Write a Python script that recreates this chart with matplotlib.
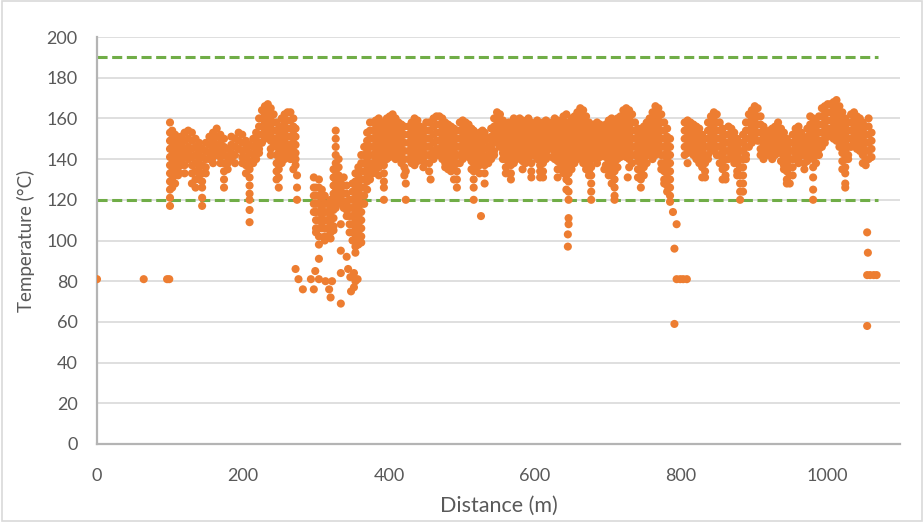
import matplotlib
matplotlib.use("Agg")
import matplotlib.pyplot as plt
from matplotlib.patches import Rectangle

# scan columns along the track: distance (m) and the temperatures read at it (degC)
col_dist = [100, 103, 107, 111, 115, 120, 125, 130, 135, 140, 144, 149, 154, 159, 164, 169, 174, 179, 184, 189,
            194, 199, 204, 209, 214, 218, 222, 226, 230, 234, 238, 242, 246, 249, 253, 257, 261, 265, 269, 272,
            274,
            297, 300, 304, 308, 312, 316, 320, 324, 327, 331, 334, 338, 342, 346, 350, 354, 358, 362, 366,
            370, 374, 378,
            382, 386, 390, 393, 397, 401, 405, 409, 413, 417, 421, 423, 427, 431, 435, 439, 443, 447, 451, 455,
            457, 461, 465, 469, 473, 477, 481, 485, 489, 493, 497, 501, 505, 509, 513, 516, 520, 524, 528, 531,
            536, 540, 544, 548, 552, 556, 560, 564, 567, 571, 575, 579, 583, 587, 591, 595, 599, 603, 607, 611,
            615, 619, 623, 627, 631, 635, 639, 643, 646, 650,
            654, 658, 662, 666, 670, 674, 677, 681, 685, 689, 693, 695, 697, 701, 705, 709, 713, 717, 721, 725,
            727, 729, 733, 737, 741, 745, 749, 753, 757, 761, 765, 769, 773, 777, 781, 785,
            805, 809, 813, 817, 821, 825, 829, 833, 837, 841, 845, 849, 853, 857, 861, 865, 869, 873, 877, 881,
            885, 889, 893, 897, 901, 905, 909, 913, 917, 921, 925, 929, 933, 937, 941, 945, 949, 953, 957, 961,
            965, 969, 973, 977, 981, 985, 989, 993, 997, 1001, 1005, 1009, 1013, 1017, 1021, 1025, 1029, 1033,
            1037, 1041, 1045, 1049, 1053, 1057, 1061]

col_temps = [
    [158, 153, 149, 145, 141, 137, 133, 129, 125, 121, 117], [154, 150, 146, 142, 138, 134, 130, 126],
    [152, 148, 144, 140, 136, 132, 128], [150, 146, 142, 138, 134, 132], [151, 147, 143, 139, 137],
    [153, 149, 145, 141, 137, 133], [154, 150, 146, 143, 140], [153, 149, 145, 141, 137, 133, 128],
    [150, 146, 142, 138, 134, 130, 126], [148, 144, 140, 136, 133, 130],
    [145, 141, 137, 133, 129, 126, 121, 117], [148, 144, 140, 136, 133], [151, 147, 143, 140],
    [153, 149, 145, 141, 138], [155, 151, 147, 144, 142], [152, 148, 144, 141, 138],
    [150, 146, 142, 138, 134, 130, 126], [145, 141, 138, 135], [151, 147, 143, 140], [150, 146, 142, 138],
    [153, 149, 145], [152, 148, 144, 141, 138], [149, 145, 141, 137, 133],
    [147, 143, 139, 135, 131, 127, 123, 120, 115, 109], [150, 146, 142, 138], [153, 149, 145, 142, 140],
    [160, 156, 152, 148, 145, 143], [164, 160, 156, 152, 148], [166, 162, 158, 154, 150],
    [167, 163, 159, 155, 152], [165, 161, 157, 153, 149, 145, 142], [162, 158, 154, 150, 148],
    [158, 154, 150, 146, 142, 138, 134, 130], [155, 151, 147, 143, 139, 135, 131, 126],
    [160, 156, 152, 148, 144, 140, 138], [162, 158, 154, 150, 146, 142, 140],
    [163, 159, 155, 151, 147, 144, 142], [163, 159, 155, 151, 147, 143, 140],
    [160, 156, 152, 148, 144, 140, 135], [155, 151, 147, 143, 140, 137], [132, 126, 120],
    # the dip around 300-380 m
    [131, 126, 122, 118, 114], [126, 122, 118, 114, 110, 106, 104],
    [130, 126, 122, 118, 114, 110, 106, 102, 98, 91], [125, 121, 117, 113, 109, 106],
    [122, 118, 114, 110, 106, 102, 100], [118, 114, 110, 106, 102], [120, 116, 112, 108, 104, 101],
    [135, 131, 127, 123, 119, 115, 111, 107, 105], [154, 150, 146, 142, 138, 134, 130, 126, 122, 118, 116],
    [140, 136, 132, 128, 124, 120], [130, 126, 122, 118, 108, 95], [131, 127, 123, 119, 116],
    [127, 123, 119, 115, 112, 92], [120, 116, 112, 108, 104],
    [128, 124, 120, 116, 112, 108, 104, 100], [133, 129, 125, 121, 117, 113, 109, 105, 101, 97, 94],
    [136, 132, 128, 124, 120, 116, 112, 108, 104, 100, 98],
    [142, 138, 134, 130, 126, 122, 118, 114, 110, 106, 102, 99], [146, 142, 138, 134, 130, 126, 122, 118],
    [153, 149, 145, 141, 137, 133, 129, 125], [158, 154, 150, 146, 142, 138, 134, 130],
    [158, 154, 150, 146, 142, 138, 135, 133],
    # 380-535 m
    [159, 155, 151, 147, 143, 139, 135], [160, 156, 152, 148, 144, 140, 136, 132],
    [158, 154, 150, 146, 142, 138], [157, 153, 149, 145, 141, 137, 133, 129, 126, 120],
    [160, 156, 152, 148, 144, 140], [161, 157, 153, 149, 145, 141], [162, 158, 154, 150, 146, 142],
    [160, 156, 152, 148, 144, 140], [158, 154, 150, 146, 143, 141], [157, 153, 149, 145, 141, 138],
    [156, 152, 148, 144, 140, 136, 132], [134, 128, 120], [156, 152, 148, 144, 140],
    [158, 154, 150, 146, 142, 138], [160, 156, 152, 148, 144, 140, 137], [159, 155, 151, 147, 143, 139],
    [156, 152, 148, 144, 140], [155, 151, 147, 143, 139, 136], [158, 154, 150, 146, 142],
    [158, 154, 150, 146, 142, 138, 134], [130], [160, 156, 152, 148, 144, 140],
    [161, 157, 153, 149, 145, 142], [161, 157, 153, 149, 145, 142], [160, 156, 152, 148, 144, 140],
    [158, 154, 150, 146, 142, 138, 136], [157, 153, 149, 145, 141, 137, 135],
    [156, 152, 148, 144, 140, 136, 134], [155, 151, 147, 143, 139, 135, 130],
    [154, 150, 146, 142, 138, 134, 130, 126], [158, 154, 150, 146, 142, 138],
    [159, 155, 151, 147, 143, 140], [158, 154, 150, 146, 142], [157, 153, 149, 145, 141],
    [155, 151, 147, 143, 139, 135], [154, 150, 146, 142, 138, 134, 130, 126, 120],
    [152, 148, 144, 140, 136], [153, 149, 145, 141, 137, 133], [154, 150, 146, 142, 138],
    [153, 149, 145, 141, 137, 133, 128],
    # 535-650 m
    [150, 146, 142, 138], [155, 151, 147, 143, 140], [160, 156, 152, 148, 144, 142],
    [163, 159, 155, 151, 148], [162, 158, 154, 150, 146], [159, 155, 151, 147, 143, 140],
    [156, 152, 148, 144, 140, 136, 133], [158, 154, 150, 146, 142, 138, 133],
    [157, 153, 149, 145, 141, 137, 133, 130], [160, 156, 152, 148, 144, 140, 138],
    [158, 154, 150, 146, 142, 140], [160, 156, 152, 148, 144, 142], [159, 155, 151, 147, 143, 139, 135],
    [157, 153, 149, 145, 141, 138], [160, 156, 152, 148, 144, 140], [158, 154, 150, 146, 142, 138, 134, 131],
    [157, 153, 149, 145, 142], [159, 155, 151, 147, 143, 140], [157, 153, 149, 145, 141, 137, 134, 131],
    [158, 154, 150, 146, 142, 138, 134, 131], [159, 155, 151, 147, 143, 140], [158, 154, 150, 147, 145],
    [157, 153, 149, 145, 141], [160, 156, 152, 148, 144, 140], [159, 155, 151, 147, 143, 139, 135, 131],
    [158, 154, 150, 146, 142, 138, 135], [161, 157, 153, 149, 145, 141, 137, 133],
    [162, 158, 154, 150, 146, 142, 138, 134, 130, 125], [157, 153, 149, 145, 141, 137, 133, 129, 124, 120],
    [160, 156, 152, 148, 144, 140, 135],
    # 650-790 m
    [161, 157, 153, 149, 145, 141, 138], [163, 159, 155, 151, 147, 143, 140],
    [165, 161, 157, 153, 149, 145, 142], [164, 160, 156, 152, 148, 144, 140, 138],
    [161, 157, 153, 149, 145, 141, 137, 135], [158, 154, 150, 146, 142, 138, 134, 132],
    [156, 152, 148, 144, 140, 136, 132, 128, 124, 120], [157, 153, 149, 145, 141],
    [158, 154, 150, 146, 142, 138], [157, 153, 149, 145, 141], [155, 151, 147, 144, 142], [135],
    [157, 153, 149, 145, 141, 137], [159, 155, 151, 147, 143, 139, 135, 132],
    [160, 156, 152, 148, 144, 140, 136, 132, 128], [158, 154, 150, 146, 142, 138, 134, 130, 126, 122, 120],
    [160, 156, 152, 148, 144, 140, 136], [161, 157, 153, 149, 145, 141],
    [164, 160, 156, 152, 148, 144, 142], [165, 161, 157, 153, 149, 145, 141], [131],
    [164, 160, 156, 152, 148, 144, 140, 136], [162, 158, 154, 150, 146, 142, 138],
    [158, 154, 150, 146, 142], [155, 151, 147, 143, 139, 135, 131], [154, 150, 146, 142, 138, 134, 130, 126],
    [156, 152, 148, 144, 140, 136, 132], [158, 154, 150, 146, 142, 138], [160, 156, 152, 148, 144, 142],
    [163, 159, 155, 151, 147, 143, 140], [166, 162, 158, 154, 150, 146, 142],
    [165, 161, 157, 153, 149, 145], [162, 158, 154, 150, 146, 142, 138, 135],
    [158, 154, 150, 146, 142, 138, 134, 130, 128], [155, 151, 147, 143, 139, 135, 131, 127, 124],
    [150, 146, 142, 138, 134, 130, 126, 122, 119],
    # 805-1061 m
    [158, 154, 150, 146, 142], [159, 155, 151, 147, 143, 138], [158, 154, 150, 146, 145],
    [157, 153, 149, 145, 142], [156, 152, 148, 144, 140], [155, 151, 147, 143, 138],
    [152, 148, 144, 140, 136, 131], [150, 146, 142, 138, 134, 131], [158, 154, 150, 146, 142, 140],
    [161, 157, 153, 149, 145], [163, 159, 155, 151, 147, 144], [162, 158, 154, 150, 146, 142],
    [158, 154, 150, 146, 142, 138], [155, 151, 147, 143, 139, 135, 130], [152, 148, 144, 140, 136, 132, 130],
    [156, 152, 148, 144, 140], [155, 151, 147, 144, 142], [153, 149, 145, 141, 138],
    [150, 146, 142, 138, 134, 132], [148, 144, 140, 136, 132, 128, 124, 120],
    [152, 148, 144, 140, 136, 132, 128, 124], [158, 154, 150, 146, 142, 140], [162, 158, 154, 150, 146],
    [164, 160, 156, 152, 148], [166, 162, 158, 154, 150], [165, 161, 157, 153, 149],
    [161, 157, 153, 149, 145, 142], [156, 152, 148, 144, 140], [153, 149, 145, 142], [154, 150, 146, 142],
    [155, 151, 147, 143, 140], [156, 152, 148, 144, 142], [158, 154, 150, 146, 143],
    [155, 151, 147, 143, 139], [153, 149, 145, 141, 137, 135], [150, 146, 142, 138, 134, 130, 128],
    [148, 144, 140, 136, 132, 128], [152, 148, 144, 140, 136, 132], [155, 151, 147, 143, 140],
    [156, 152, 148, 144, 140, 138], [153, 149, 145, 142], [150, 146, 142, 138, 135],
    [155, 151, 147, 143, 139], [161, 157, 153, 149, 145, 141], [160, 156, 152, 148, 144, 140, 136, 131, 125, 120],
    [158, 154, 150, 146, 142, 138], [161, 157, 153, 149, 145, 142], [165, 161, 157, 153, 149, 146],
    [166, 162, 158, 154, 150, 148], [167, 163, 159, 155, 151], [167, 163, 159, 155, 152],
    [168, 164, 160, 156, 152, 150], [169, 165, 161, 157, 153, 149], [166, 162, 158, 154, 150, 146],
    [163, 159, 155, 151, 147, 143, 139, 135], [160, 156, 152, 148, 144, 140, 136, 133, 128, 126],
    [158, 154, 150, 146, 142, 140], [162, 158, 154, 150, 146], [163, 159, 155, 151, 148],
    [161, 157, 153, 149, 145], [160, 156, 152, 148, 144], [158, 154, 150, 146, 142, 138],
    [156, 152, 148, 144, 140, 137], [160, 156, 152, 148, 144, 140], [153, 149, 145, 141],
]

# isolated readings away from the main band
sparse_dist = [0, 64, 96, 99, 272, 276, 282, 293, 297, 299, 304, 313, 318, 322, 320, 334, 334, 344, 347,
               352, 354, 348, 357, 352, 526, 646, 646, 645, 645, 789, 794, 791, 794, 799, 803, 808, 791,
               1055, 1056, 1055, 1059, 1064, 1068, 1055]
sparse_temp = [81, 81, 81, 81, 86, 81, 76, 81, 76, 85, 81, 80, 76, 80, 72, 69, 84, 86, 82,
               84, 80, 75, 81, 77, 112, 111, 108, 103, 97, 114, 108, 96, 81, 81, 81, 81, 59,
               104, 94, 83, 83, 83, 83, 58]

limit_low = 120
limit_high = 190
limit_span = [0, 1070]

dist = []
temp = []
for x, ys in zip(col_dist, col_temps):
    dist += [x] * len(ys)
    temp += ys
dist += sparse_dist
temp += sparse_temp

plt.rcParams['font.family'] = ['Lato', 'DejaVu Sans']

fig = plt.figure(figsize=(9.24, 5.22), dpi=100)
ax = fig.add_axes([97 / 924, 1 - 444 / 522, 803 / 924, 407 / 522])

green = '#70AD47'
for lim in (limit_low, limit_high):
    ax.plot(limit_span, [lim, lim], color=green, lw=2.2, dashes=(3.3, 1.5), solid_capstyle='butt',
            dash_capstyle='butt', zorder=2)
ax.scatter(dist, temp, s=34, color='#ED7D31', edgecolors='none', zorder=3)

ax.set_xlim(0, 1100)
ax.set_ylim(0, 200)
ax.set_xticks(range(0, 1001, 200))
ax.set_yticks(range(0, 201, 20))
ax.grid(axis='y', color='#D9D9D9', lw=1.2)
ax.set_axisbelow(True)
for side in ('top', 'right'):
    ax.spines[side].set_visible(False)
for side in ('left', 'bottom'):
    ax.spines[side].set_color('#B4B4B4')
    ax.spines[side].set_linewidth(1.6)
ax.tick_params(length=0, labelsize=13, labelcolor='#595959')
ax.tick_params(axis='y', pad=14)
ax.tick_params(axis='x', pad=17)
ax.set_xlabel('Distance (m)', fontsize=15.5, color='#595959', labelpad=9)
ax.set_ylabel('Temperature (°C)', fontsize=13.5, color='#595959', labelpad=8)

fig.patches.append(Rectangle((0.002, 0.002), 0.996, 0.996, transform=fig.transFigure, fill=False,
                             edgecolor='#D9D9D9', lw=1.2))

fig.savefig('out.png', dpi=100)
